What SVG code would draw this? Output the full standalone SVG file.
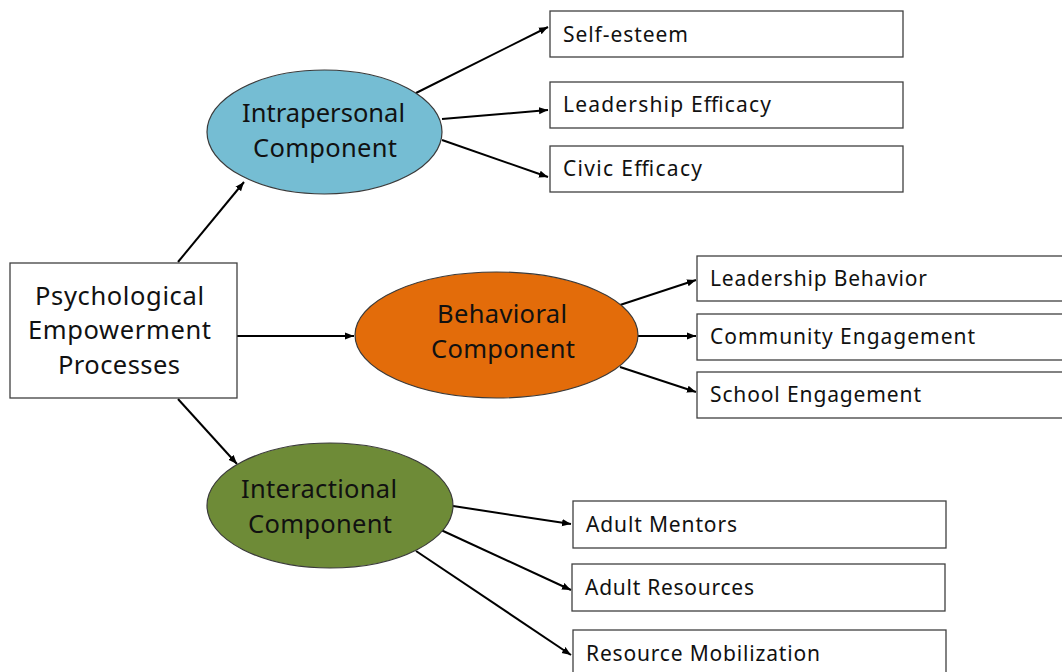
<svg xmlns="http://www.w3.org/2000/svg" width="1062" height="672" viewBox="0 0 1062 672">
<defs>
<marker id="ah" viewBox="0 0 10 10" refX="10" refY="5" markerWidth="9" markerHeight="9" markerUnits="userSpaceOnUse" orient="auto">
<path d="M0,1 L10,5 L0,9 z" fill="#000"/>
</marker>
<style>
.box{fill:#fff;stroke:#404040;stroke-width:1.3}
.ell{stroke:#3a3a3a;stroke-width:1.2}
.t{font-family:"Noto Sans","Open Sans",sans-serif;font-size:21px;fill:#111}
.e{font-family:"Noto Sans","Open Sans",sans-serif;font-size:25.5px;fill:#111;text-anchor:middle}
.c line{stroke:#000;stroke-width:2;marker-end:url(#ah)}
</style>
</defs>
<rect width="1062" height="672" fill="#fff"/>
<g class="c" id="connectors">
<line x1="178" y1="262" x2="244" y2="182"/>
<line x1="237" y1="336" x2="354" y2="336"/>
<line x1="178" y1="399" x2="237" y2="464"/>
<line x1="416" y1="93" x2="548" y2="27"/>
<line x1="442" y1="119" x2="548" y2="110"/>
<line x1="442" y1="140" x2="548" y2="177"/>
<line x1="620" y1="305" x2="696" y2="280"/>
<line x1="638" y1="336" x2="696" y2="336"/>
<line x1="620" y1="367" x2="696" y2="392"/>
<line x1="453" y1="506" x2="571" y2="524"/>
<line x1="441" y1="530" x2="571" y2="590"/>
<line x1="416" y1="551" x2="571" y2="655"/>
</g>
<g id="psych">
<rect class="box" x="10" y="263" width="227" height="135"/>
<text class="e" x="119.5" y="305" textLength="169" lengthAdjust="spacing">Psychological</text>
<text class="e" x="119.5" y="339" textLength="183" lengthAdjust="spacing">Empowerment</text>
<text class="e" x="119" y="374" textLength="122" lengthAdjust="spacing">Processes</text>
</g>
<g id="intrapersonal">
<ellipse class="ell" cx="324.5" cy="132" rx="117.5" ry="62" fill="#75BDD3"/>
<text class="e" x="323.5" y="122" textLength="163" lengthAdjust="spacing">Intrapersonal</text>
<text class="e" x="325" y="157" textLength="144" lengthAdjust="spacing">Component</text>
</g>
<g id="behavioral">
<ellipse class="ell" cx="496.5" cy="335" rx="141.5" ry="63" fill="#E36C0A"/>
<text class="e" x="502" y="323" textLength="130" lengthAdjust="spacing">Behavioral</text>
<text class="e" x="503" y="358" textLength="144" lengthAdjust="spacing">Component</text>
</g>
<g id="interactional">
<ellipse class="ell" cx="330" cy="505.5" rx="123" ry="62.5" fill="#6E8B37"/>
<text class="e" x="319" y="498" textLength="156" lengthAdjust="spacing">Interactional</text>
<text class="e" x="320" y="533" textLength="144" lengthAdjust="spacing">Component</text>
</g>
<g id="self-esteem"><rect class="box" x="550" y="11" width="353" height="46"/><text class="t" x="563" y="42" textLength="125" lengthAdjust="spacing">Self-esteem</text></g>
<g id="leadership-efficacy"><rect class="box" x="550" y="82" width="353" height="46"/><text class="t" x="563" y="112" textLength="208" lengthAdjust="spacing">Leadership Efficacy</text></g>
<g id="civic-efficacy"><rect class="box" x="550" y="146" width="353" height="46"/><text class="t" x="563" y="176" textLength="139" lengthAdjust="spacing">Civic Efficacy</text></g>
<g id="leadership-behavior"><rect class="box" x="697" y="256" width="380" height="45"/><text class="t" x="710" y="286" textLength="217" lengthAdjust="spacing">Leadership Behavior</text></g>
<g id="community-engagement"><rect class="box" x="697" y="314" width="380" height="46"/><text class="t" x="710" y="344" textLength="265" lengthAdjust="spacing">Community Engagement</text></g>
<g id="school-engagement"><rect class="box" x="697" y="372" width="380" height="46"/><text class="t" x="710" y="402" textLength="211" lengthAdjust="spacing">School Engagement</text></g>
<g id="adult-mentors"><rect class="box" x="573" y="501" width="373" height="47"/><text class="t" x="586" y="532" textLength="151" lengthAdjust="spacing">Adult Mentors</text></g>
<g id="adult-resources"><rect class="box" x="572" y="564" width="373" height="47"/><text class="t" x="585" y="595" textLength="169" lengthAdjust="spacing">Adult Resources</text></g>
<g id="resource-mobilization"><rect class="box" x="573" y="630" width="373" height="60"/><text class="t" x="586" y="661" textLength="234" lengthAdjust="spacing">Resource Mobilization</text></g>
</svg>
